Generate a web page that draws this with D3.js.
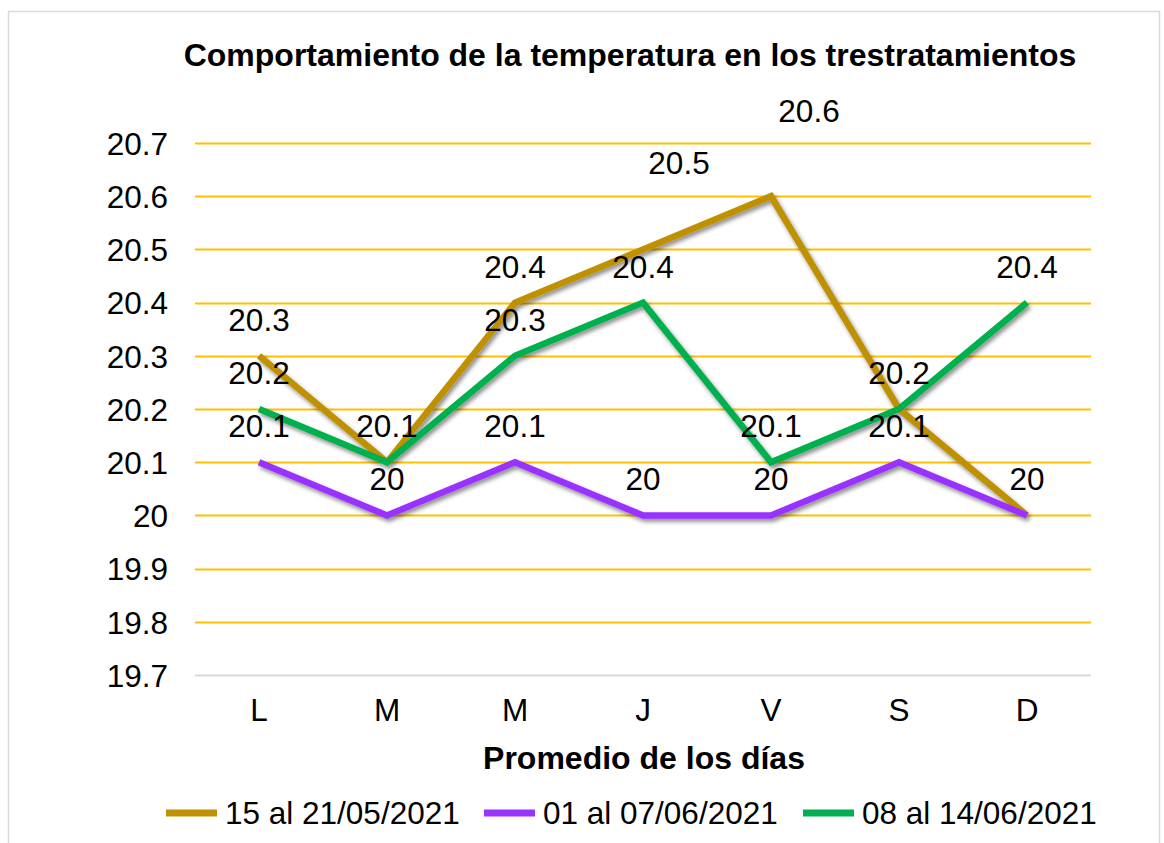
<!DOCTYPE html>
<html>
<head>
<meta charset="utf-8">
<script src="https://cdn.jsdelivr.net/npm/d3@7"></script>
<style>
  body { margin: 0; background: #fff; }
  text { font-family: "Liberation Sans", Arial, sans-serif; fill: #000; }
</style>
</head>
<body>
<div class="chart"></div>
<script>
// data
const days = ["L", "M", "M", "J", "V", "S", "D"];
const seriesNames = ["15 al 21/05/2021", "01 al 07/06/2021", "08 al 14/06/2021"];
const mayo = [20.3, 20.1, 20.4, 20.5, 20.6, 20.2, 20.0];
const junio1 = [20.1, 20.0, 20.1, 20.0, 20.0, 20.1, 20.0];
const junio2 = [20.2, 20.1, 20.3, 20.4, 20.1, 20.2, 20.4];
const yTicks = [19.7, 19.8, 19.9, 20.0, 20.1, 20.2, 20.3, 20.4, 20.5, 20.6, 20.7];
const colors = ["#BF9000", "#9933FF", "#00B050"];

const W = 1164, H = 843;
const margin = {top: 143, left: 195, right: 73, bottom: 168};

const series = seriesNames.map((name, k) => ({
    name: name,
    color: colors[k],
    values: [mayo, junio1, junio2][k]
}));

const svg = d3.select(".chart").append("svg")
    .attr("width", W)
    .attr("height", H);

// drop shadow like the excel lines
const defs = svg.append("defs");
defs.append("filter")
    .attr("id", "shadow")
    .attr("x", "-10%").attr("y", "-10%")
    .attr("width", "120%").attr("height", "130%")
    .append("feDropShadow")
    .attr("dx", 2).attr("dy", 3)
    .attr("stdDeviation", 2)
    .attr("flood-color", "#000")
    .attr("flood-opacity", 0.45);

// chart border
svg.append("rect")
    .attr("x", 8.5).attr("y", 11.5)
    .attr("width", 1151).attr("height", 860)
    .attr("fill", "none")
    .attr("stroke", "#D9D9D9")
    .attr("stroke-width", 1.5);

const x = d3.scaleBand()
    .domain(d3.range(days.length))
    .range([margin.left, W - margin.right]);

const y = d3.scaleLinear()
    .domain([19.7, 20.7])
    .range([H - margin.bottom, margin.top]);

// title
svg.append("text")
    .attr("x", 630).attr("y", 66)
    .attr("text-anchor", "middle")
    .style("font-size", "32px")
    .style("font-weight", "bold")
    .text("Comportamiento de la temperatura en los trestratamientos");

// gridlines
svg.append("g")
    .selectAll("line")
    .data(yTicks)
    .join("line")
    .attr("x1", margin.left)
    .attr("x2", W - margin.right)
    .attr("y1", d => Math.round(y(d)) + 0.5)
    .attr("y2", d => Math.round(y(d)) + 0.5)
    .attr("stroke", d => d === 19.7 ? "#D9D9D9" : "#FFC000")
    .attr("stroke-width", 2);

// y axis
const yAxis = d3.axisLeft(y)
    .tickValues(yTicks)
    .tickFormat(d => d3.format("")(+d.toFixed(1)))
    .tickSize(0)
    .tickPadding(27);

svg.append("g")
    .attr("transform", `translate(${margin.left},0)`)
    .call(yAxis)
    .call(g => g.select(".domain").remove())
    .selectAll("text")
    .style("font-size", "31.5px")
    .attr("font-family", null)
    .attr("dy", "0.36em");

// x axis
const xAxis = d3.axisBottom(x)
    .tickFormat(i => days[i])
    .tickSize(0)
    .tickPadding(24);

svg.append("g")
    .attr("transform", `translate(0,${H - margin.bottom})`)
    .call(xAxis)
    .call(g => g.select(".domain").remove())
    .selectAll("text")
    .style("font-size", "31.5px")
    .attr("font-family", null);

// axis title
svg.append("text")
    .attr("x", 644).attr("y", 769)
    .attr("text-anchor", "middle")
    .style("font-size", "32px")
    .style("font-weight", "bold")
    .text("Promedio de los días");

const cx = i => x(i) + x.bandwidth() / 2;

const line = d3.line()
    .x((d, i) => cx(i))
    .y(d => y(d));

svg.append("g")
    .attr("filter", "url(#shadow)")
    .selectAll("path")
    .data(series)
    .join("path")
    .attr("d", d => line(d.values))
    .attr("fill", "none")
    .attr("stroke", d => d.color)
    .attr("stroke-width", 6.5)
    .attr("stroke-linejoin", "miter");

// two labels of the first series were dragged up/right in the original
const nudge = (k, i) => {
    if (k === 0 && i === 3) return [36, -50];
    if (k === 0 && i === 4) return [38, -49];
    return [0, 0];
};

// labels that land on the same spot with the same text are drawn once
const seen = new Set();
const labels = series.flatMap((s, k) => s.values.map((v, i) => ({k, i, v})))
    .filter(d => {
        const key = d.i + "|" + d.v + "|" + nudge(d.k, d.i).join(",");
        if (seen.has(key)) return false;
        seen.add(key);
        return true;
    });

svg.append("g")
    .selectAll("text")
    .data(labels)
    .join("text")
    .attr("x", d => cx(d.i) + nudge(d.k, d.i)[0])
    .attr("y", d => y(d.v) - 25 + nudge(d.k, d.i)[1])
    .attr("text-anchor", "middle")
    .style("font-size", "31.5px")
    .text(d => d3.format("")(+d.v.toFixed(1)));

// legend
const legendX = [166, 484, 803];
const legend = svg.append("g")
    .selectAll("g")
    .data(series)
    .join("g")
    .attr("transform", (d, k) => `translate(${legendX[k]},813)`);

legend.append("line")
    .attr("x1", 0).attr("x2", 51)
    .attr("stroke", d => d.color)
    .attr("stroke-width", 7);

legend.append("text")
    .attr("x", 59)
    .attr("y", 11)
    .style("font-size", "31.5px")
    .text(d => d.name);
</script>
</body>
</html>
